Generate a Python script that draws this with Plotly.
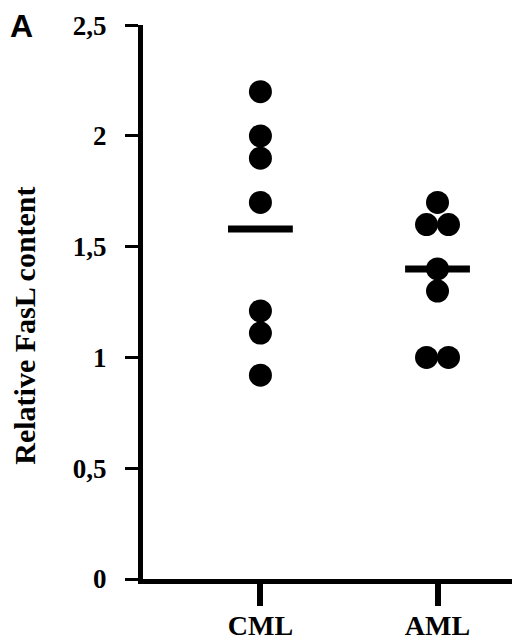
import plotly.graph_objects as go
from collections import Counter

categories = ["CML", "AML"]
cml_values = [2.2, 2.0, 1.9, 1.7, 1.21, 1.11, 0.92]
aml_values = [1.7, 1.6, 1.6, 1.4, 1.3, 1.0, 1.0]
group_means = [1.58, 1.40]
y_tick_vals = [0, 0.5, 1, 1.5, 2, 2.5]
y_tick_text = ["0", "0,5", "1", "1,5", "2", "2,5"]

groups = [cml_values, aml_values]
DODGE = 0.062
HALF = 0.183

fig = go.Figure()
for i, vals in enumerate(groups):
    counts = Counter(vals)
    seen = Counter()
    xs = []
    for v in vals:
        n = counts[v]
        k = seen[v]
        seen[v] += 1
        off = (k - (n - 1) / 2) * 2 * DODGE if n > 1 else 0
        xs.append(i + 1 + off)
    fig.add_trace(go.Scatter(
        x=xs, y=vals, mode="markers",
        marker=dict(size=23, color="black", line=dict(width=0)),
        cliponaxis=False, showlegend=False, hoverinfo="y"))
    fig.add_shape(type="line", xref="x", yref="y",
                  x0=i + 1 - HALF, x1=i + 1 + HALF,
                  y0=group_means[i], y1=group_means[i],
                  line=dict(color="black", width=7))

serif = "Liberation Serif, Times New Roman, serif"
L, T, B = 135, 11, 70
PW, PH = 520 - L - 3, 641 - T - B

fig.update_layout(
    width=520, height=641,
    margin=dict(l=L, r=3, t=T, b=B),
    paper_bgcolor="white", plot_bgcolor="white",
    xaxis=dict(
        range=[0.337, 2.494], tickvals=[1, 2], ticktext=categories,
        showline=True, linecolor="black", linewidth=5,
        ticks="outside", ticklen=22, tickwidth=6, tickcolor="black",
        showgrid=False, zeroline=False,
        tickfont=dict(family=serif, size=28, color="black", weight="bold"),
        ticklabelstandoff=-5, ticklabeloverflow="allow",
    ),
    yaxis=dict(
        range=[0, 2.501], tickvals=y_tick_vals, ticktext=y_tick_text,
        showline=True, linecolor="black", linewidth=5,
        ticks="outside", ticklen=13, tickwidth=3, tickcolor="black",
        showgrid=False, zeroline=False,
        tickfont=dict(family=serif, size=27, color="black", weight="bold"),
        ticklabelstandoff=13, ticklabeloverflow="allow",
    ),
    annotations=[
        dict(text="Relative FasL content", xref="paper", yref="paper",
             x=(17 - L) / PW, y=(571 - 315) / PH, xanchor="center", yanchor="middle",
             textangle=-90, showarrow=False, borderpad=0,
             font=dict(family=serif, size=30, color="black", weight="bold")),
        dict(text="A", xref="paper", yref="paper",
             x=(1 - L) / PW, y=(571 + 7) / PH, xanchor="left", yanchor="top",
             showarrow=False, borderpad=0,
             font=dict(family="Liberation Sans, Arial, sans-serif", size=32,
                       color="black", weight="bold")),
    ],
)

fig.write_html("out.html")
